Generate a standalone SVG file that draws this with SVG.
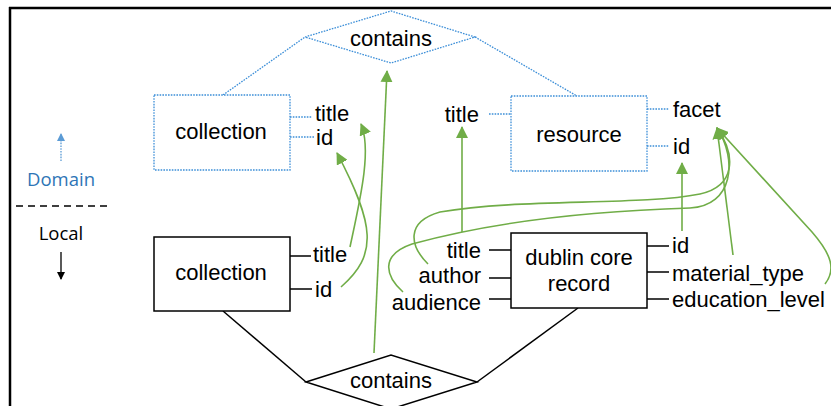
<svg xmlns="http://www.w3.org/2000/svg" width="831" height="406" viewBox="0 0 831 406">
<style>
text{font-family:"Liberation Sans",Arial,sans-serif;font-size:22px;fill:#000}
.leg{font-family:"Open Sans","Noto Sans",sans-serif;font-size:18.5px;text-anchor:middle}
.mid{text-anchor:middle}
.end{text-anchor:end}
.dom{fill:#fff;stroke:#3d8fd8;stroke-width:1.3;stroke-dasharray:1.6 1.2}
.domln{fill:none;stroke:#3d8fd8;stroke-width:1.3;stroke-dasharray:1.6 1.2}
.loc{fill:#fff;stroke:#000;stroke-width:1.5}
.locln{fill:none;stroke:#000;stroke-width:1.5}
.g{fill:none;stroke:#70ad47;stroke-width:1.6}
.ga{fill:none;stroke:#70ad47;stroke-width:1.6;marker-end:url(#gh)}
</style>
<defs>
<marker id="gh" markerWidth="12" markerHeight="12" viewBox="0 0 12 12" refX="11" refY="6" orient="auto" markerUnits="userSpaceOnUse">
<path d="M0,0 L12,6 L0,12 Z" fill="#70ad47"/>
</marker>
<marker id="bh" markerWidth="8" markerHeight="8" viewBox="0 0 8 8" refX="7" refY="4" orient="auto" markerUnits="userSpaceOnUse">
<path d="M0,0 L8,4 L0,8 Z" fill="#000"/>
</marker>
<marker id="blh" markerWidth="8" markerHeight="8" viewBox="0 0 8 8" refX="7" refY="4" orient="auto" markerUnits="userSpaceOnUse">
<path d="M0,0 L8,4 L0,8 Z" fill="#5b9bd5"/>
</marker>
</defs>
<rect width="831" height="406" fill="#fff"/>
<g id="frame">
<line x1="9" y1="8" x2="831" y2="8" stroke="#000" stroke-width="2.5"/>
<line x1="10" y1="7" x2="10" y2="406" stroke="#000" stroke-width="2.5"/>
</g>
<g id="legend">
<line x1="61" y1="161" x2="61" y2="134" stroke="#5b9bd5" stroke-width="1.3" stroke-dasharray="1.6 1.2" marker-end="url(#blh)"/>
<text class="leg" x="61" y="186" fill="#2e75b6" style="fill:#2e75b6">Domain</text>
<line x1="16" y1="206" x2="107" y2="206" stroke="#000" stroke-width="1.3" stroke-dasharray="7 5"/>
<text class="leg" x="61" y="240">Local</text>
<line x1="61" y1="252" x2="61" y2="279" stroke="#000" stroke-width="1.3" marker-end="url(#bh)"/>
</g>
<g id="connectors">
<polyline class="domln" points="223,95 305,37"/>
<polyline class="domln" points="475,37 577,96"/>
<line class="domln" x1="290" y1="117" x2="312" y2="117"/>
<line class="domln" x1="290" y1="137" x2="314" y2="137"/>
<line class="domln" x1="489" y1="114" x2="511" y2="114"/>
<line class="domln" x1="647" y1="109" x2="669" y2="109"/>
<line class="domln" x1="647" y1="146" x2="669" y2="146"/>
<line class="locln" x1="223" y1="311" x2="306" y2="382"/>
<line class="locln" x1="578" y1="308" x2="477" y2="382"/>
<line class="locln" x1="289" y1="256" x2="311" y2="256"/>
<line class="locln" x1="289" y1="289" x2="312" y2="289"/>
<line class="locln" x1="489" y1="250" x2="511" y2="250"/>
<line class="locln" x1="489" y1="278" x2="511" y2="278"/>
<line class="locln" x1="489" y1="299" x2="511" y2="299"/>
<line class="locln" x1="647" y1="246" x2="669" y2="246"/>
<line class="locln" x1="647" y1="272" x2="669" y2="272"/>
<line class="locln" x1="647" y1="299" x2="669" y2="299"/>
<path class="ga" d="M374,353 L387,71"/>
<path class="ga" d="M350,247 C360,200 372,150 361,124"/>
<path class="ga" d="M341,287 C378,255 375,225 337,153"/>
<path class="ga" d="M462,232 L462,127"/>
<path class="ga" d="M682,231 L682,163"/>
<path class="ga" d="M733,255 L717,128"/>
<path class="ga" d="M825,284 C836,270 832,255 812,232 L717,128"/>
<path class="ga" d="M428,264 C410,246 405,222 440,212 C520,198 640,206 700,194 C736,186 736,155 717,128"/>
<path class="ga" d="M403,292 C385,276 380,255 412,244 C470,228 560,212 690,208 C733,206 738,160 717,128"/>
</g>
<g id="contains-domain">
<polygon class="dom" points="305,37 391,11 475,37 391,63"/>
<text class="mid" x="391" y="46">contains</text>
</g>
<g id="collection-domain">
<rect class="dom" x="154" y="95" width="136" height="75"/>
<text class="mid" x="221" y="139">collection</text>
<text x="315" y="121">title</text>
<text x="316" y="145">id</text>
</g>
<g id="resource-domain">
<rect class="dom" x="511" y="96" width="136" height="75"/>
<text class="mid" x="579" y="142">resource</text>
<text class="end" x="479" y="122">title</text>
<text x="673" y="117">facet</text>
<text x="673" y="154">id</text>
</g>
<g id="collection-local">
<rect class="loc" x="154" y="237" width="136" height="74"/>
<text class="mid" x="221" y="280">collection</text>
<text x="313" y="262">title</text>
<text x="315" y="297">id</text>
</g>
<g id="dublin-core-record">
<rect class="loc" x="511" y="233" width="136" height="75"/>
<text class="mid" x="579" y="265">dublin core</text>
<text class="mid" x="579" y="291">record</text>
<text class="end" x="481" y="258">title</text>
<text class="end" x="481" y="283">author</text>
<text class="end" x="481" y="310">audience</text>
<text x="672" y="253">id</text>
<text x="672" y="281">material_type</text>
<text x="672" y="307">education_level</text>
</g>
<g id="contains-local">
<polygon class="loc" points="306,382 391,355 477,382 391,409"/>
<text class="mid" x="391" y="388">contains</text>
</g>
</svg>
